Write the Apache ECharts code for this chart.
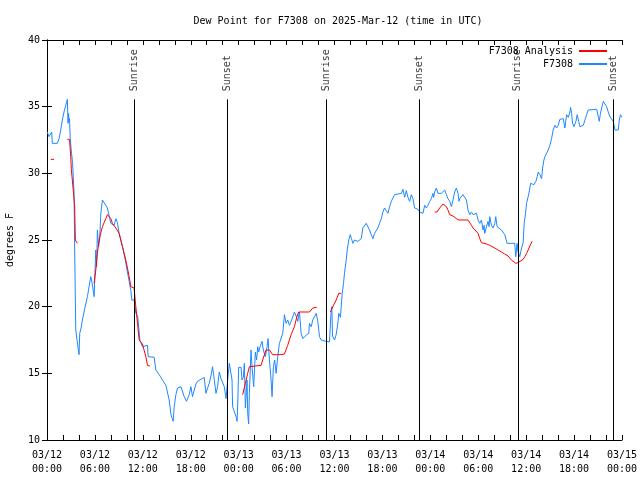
<!DOCTYPE html>
<html>
<head>
<meta charset="utf-8">
<script src="https://cdn.jsdelivr.net/npm/echarts@6/dist/echarts.min.js"></script>
<style>html,body{margin:0;padding:0;background:#fff}#c{width:640px;height:480px}</style>
</head>
<body>
<div id="c"></div>
<script>
// Hours since 2025-03-12 00:00 UTC
const obsHours = [0.04,0.25,0.38,0.59,0.66,1.29,1.51,1.72,1.92,2.13,2.35,2.55,2.63,2.70,2.76,2.82,2.91,3.07,3.20,3.39,3.45,3.55,3.60,3.76,4.01,4.10,4.27,4.43,4.64,4.85,5.06,5.27,5.48,5.64,5.90,6.11,6.21,6.31,6.46,6.59,6.74,6.94,7.15,7.36,7.56,7.78,7.99,8.19,8.40,8.62,8.82,9.03,9.24,9.45,9.66,9.87,10.07,10.29,10.50,10.62,10.79,10.91,11.13,11.35,11.54,11.63,11.95,12.16,12.58,12.67,13.42,13.63,13.80,14.05,14.46,14.89,15.09,15.30,15.52,15.68,15.80,15.93,16.14,16.34,16.56,16.77,16.97,17.18,17.47,17.81,18.02,18.22,18.44,18.65,18.85,19.28,19.69,19.90,20.11,20.32,20.53,20.73,20.95,21.16,21.36,21.57,21.79,21.99,22.20,22.42,22.62,22.83,23.04,23.17,23.24,23.46,23.67,23.80,23.90,24.00,24.30,24.42,24.59,24.71,24.84,25.05,25.13,25.25,25.34,25.55,25.67,25.88,26.09,26.25,26.38,26.51,26.68,26.93,27.09,27.34,27.56,27.68,27.85,28.06,28.18,28.35,28.51,28.69,28.89,29.10,29.31,29.52,29.73,29.94,30.14,30.36,30.57,30.77,30.98,31.20,31.40,31.61,31.82,32.03,32.24,32.52,32.78,32.86,33.08,33.28,33.50,33.71,33.91,34.12,34.33,34.96,35.37,35.58,35.66,35.75,36.00,36.21,36.42,36.54,36.63,36.75,36.84,36.97,37.13,37.25,37.47,37.59,37.79,37.97,38.13,38.30,38.51,38.72,38.92,39.13,39.35,39.55,39.76,39.97,40.18,40.39,40.60,40.81,41.02,41.23,41.43,41.64,41.86,42.06,42.27,42.48,42.69,42.90,43.11,43.31,43.53,43.94,44.37,44.57,44.78,44.99,45.20,45.41,45.62,45.82,46.03,46.45,46.66,46.88,47.08,47.29,47.50,47.70,47.92,48.13,48.33,48.42,48.54,48.75,48.96,49.17,49.38,49.59,49.80,50.01,50.21,50.43,50.64,50.84,51.05,51.26,51.47,51.59,51.68,51.89,52.09,52.30,52.52,52.72,52.93,53.15,53.35,53.56,53.77,53.98,54.19,54.40,54.60,54.73,54.81,55.03,55.23,55.35,55.44,55.65,55.85,56.07,56.19,56.36,56.61,56.91,57.11,57.32,57.53,57.61,58.57,58.70,58.86,58.99,59.20,59.42,59.62,59.75,59.92,60.05,60.25,60.38,60.55,60.75,60.97,61.22,61.38,61.51,61.72,61.93,62.06,62.22,62.35,62.56,62.76,62.97,63.18,63.38,63.60,63.81,64.01,64.22,64.64,64.85,65.06,65.27,65.48,65.56,65.69,65.81,65.98,66.23,66.39,66.57,66.73,66.94,67.15,67.36,67.57,67.77,68.83,69.03,69.15,69.28,69.45,69.66,69.87,70.08,70.28,70.49,70.71,70.91,71.12,71.53,71.66,71.81,72.0];
const obsValues = [33.1,32.75,32.6,33.1,32.25,32.25,32.6,33.25,34.0,34.6,35.1,35.55,33.75,34.5,33.9,34.1,32.6,31.5,30.8,28.5,25.0,20.5,18.25,17.5,16.4,18.0,18.4,19.0,19.6,20.2,20.75,21.5,22.25,21.8,20.75,24.25,23.0,25.75,24.5,25.0,27.0,28.0,28.1,27.6,27.4,27.25,26.25,26.3,26.1,26.6,26.3,25.5,25.0,24.5,23.9,23.25,22.6,21.9,21.2,20.5,20.6,20.5,19.5,19.3,19.25,17.5,17.0,17.0,17.1,16.25,16.2,15.25,15.1,14.9,14.5,14.1,14.0,13.0,11.9,11.6,11.4,12.5,13.4,13.9,13.8,14.0,13.9,13.25,12.9,13.4,14.0,13.25,13.75,14.2,14.4,14.55,14.7,13.5,13.9,14.25,14.8,15.5,14.5,13.5,14.0,15.1,14.6,14.6,14.0,13.1,14.5,15.75,15.8,14.5,12.5,12.4,11.75,11.4,13.0,15.45,15.45,14.5,14.7,15.75,12.4,14.5,12.0,11.2,13.5,16.75,15.5,14.0,16.6,16.0,17.0,16.6,17.0,17.4,16.75,16.25,17.0,17.6,16.0,14.5,13.25,15.5,16.0,15.0,16.25,17.25,17.4,18.0,19.4,18.75,19.0,18.6,18.9,19.0,19.6,19.3,18.9,19.6,18.0,17.6,17.75,17.9,18.0,18.75,18.5,19.0,19.25,19.5,18.9,17.75,17.5,17.4,17.35,19.75,20.0,17.8,17.5,17.9,18.75,19.5,19.5,19.2,20.0,21.0,21.75,22.5,23.5,24.25,25.0,25.4,25.1,24.75,25.0,25.1,24.9,24.75,25.1,25.9,25.9,26.25,26.1,25.75,25.4,25.1,25.5,25.6,25.9,26.25,26.6,27.1,27.4,27.2,27.0,27.5,27.9,27.75,28.4,28.45,28.5,28.8,28.2,28.7,28.2,27.9,28.4,28.1,27.4,27.3,27.1,27.0,27.0,27.6,27.4,27.6,27.9,28.1,28.5,28.2,28.6,28.9,28.5,28.6,28.5,28.6,28.75,28.4,28.1,27.9,27.5,28.0,28.6,28.9,28.5,27.9,28.1,28.0,28.4,28.5,28.0,27.25,26.9,27.1,26.9,27.0,27.0,26.5,26.25,26.5,25.75,26.1,25.5,26.0,26.4,26.0,26.75,26.1,25.9,26.25,26.75,26.0,25.9,25.75,25.6,25.4,25.25,24.75,24.75,23.75,24.75,24.1,23.75,24.4,24.75,26.25,27.0,27.75,28.25,28.6,29.25,29.1,29.15,29.4,29.75,30.1,29.9,29.6,30.4,31.0,31.25,31.1,31.75,32.1,32.6,33.25,33.6,33.4,33.6,34.05,34.1,33.4,34.4,34.2,34.6,34.95,34.5,33.75,33.5,33.9,34.4,33.9,33.5,33.4,33.6,34.0,34.4,34.75,34.8,34.25,33.9,34.4,34.9,35.4,35.25,35.0,34.6,34.25,34.1,33.9,33.25,33.25,34.0,34.4,34.2];
// Analysis: null value = gap in the line
const anaHours = [0.46,0.88,1.7,2.55,2.82,2.97,3.05,3.17,3.46,3.55,3.65,3.80,4.8,5.90,6.11,6.31,6.52,6.94,7.36,7.56,7.78,7.99,8.19,8.62,9.03,9.45,9.87,10.29,10.50,10.91,11.04,11.33,11.54,11.95,12.38,12.58,12.88,18.0,24.50,24.71,24.84,25.13,25.34,25.55,26.81,27.00,27.43,27.63,27.85,28.26,28.69,29.31,29.73,30.14,30.57,30.98,31.27,31.52,32.86,33.28,33.78,34.6,35.50,35.79,36.21,36.54,36.84,42.0,48.54,48.83,49.17,49.59,49.80,50.01,50.21,50.43,50.84,51.26,51.59,52.72,52.93,53.15,53.35,53.56,53.98,54.19,54.40,55.03,55.44,55.65,56.07,56.48,56.91,57.32,57.73,58.15,58.35,58.70,58.99,59.20,59.62,59.83,60.05,60.25,60.46,60.75];
const anaValues = [31.05,31.05,null,32.55,32.55,31.25,30.3,29.5,27.6,25.0,24.9,24.75,null,21.75,22.75,24.0,25.0,26.0,26.6,26.9,26.9,26.6,26.25,25.9,25.5,24.5,23.5,22.25,21.5,21.4,20.5,18.75,17.5,17.2,16.25,15.6,15.55,null,13.4,13.4,14.25,15.0,15.5,15.6,15.6,16.0,16.75,16.9,16.75,16.4,16.4,16.4,16.45,17.1,17.9,18.5,19.2,19.6,19.6,19.9,19.95,null,19.6,20.0,20.5,21.0,21.0,null,27.1,27.1,27.4,27.7,27.7,27.5,27.25,26.9,26.8,26.6,26.5,26.5,26.35,26.1,25.9,25.75,25.5,25.1,24.8,24.7,24.6,24.5,24.4,24.25,24.1,23.95,23.8,23.5,23.35,23.25,23.3,23.45,23.55,23.75,24.0,24.25,24.55,24.9];
const sunHours = [10.91, 22.58, 35.0, 46.66, 58.96, 70.87];
const sunLabels = ['Sunrise', 'Sunset', 'Sunrise', 'Sunset', 'Sunrise', 'Sunset'];
const yTicks = [10, 15, 20, 25, 30, 35, 40];

const FONT = 'DejaVu Sans Mono';
const obsData = obsHours.map((h, i) => [h, obsValues[i]]);
const anaData = anaHours.map((h, i) => [h, anaValues[i] === null ? '-' : anaValues[i]]);
const lineTop = 35.55, labelBase = 36.15;

function xLabel(h) {
  const d = 12 + Math.floor(h / 24);
  const hh = h % 24;
  return '03/' + d + '\n' + (hh < 10 ? '0' : '') + hh + ':00';
}

const chart = echarts.init(document.getElementById('c'), null, {renderer: 'canvas'});
const tickStyle = {color: '#000', width: 1};
chart.setOption({
  animation: false,
  backgroundColor: '#fff',
  title: {
    text: 'Dew Point for F7308 on 2025-Mar-12 (time in UTC)',
    left: 333, textAlign: 'center', top: 11,
    textStyle: {fontFamily: FONT, fontSize: 10, fontWeight: 'normal', color: '#000'}
  },
  legend: {
    orient: 'vertical', right: 28, top: 41, align: 'right',
    itemWidth: 28, itemHeight: 2, itemGap: 3, icon: 'rect',
    data: ['F7308 Analysis', 'F7308'],
    textStyle: {fontFamily: FONT, fontSize: 10, color: '#000', padding: [0, 1, 0, 0]}
  },
  grid: {left: 47, right: 18, top: 40, bottom: 40, containLabel: false, outerBoundsMode: 'none'},
  xAxis: [{
    type: 'value', min: 0, max: 72, interval: 6,
    axisLine: {show: true, lineStyle: tickStyle},
    axisTick: {inside: true, length: 5, lineStyle: tickStyle},
    minorTick: {show: true, splitNumber: 3, length: 5, lineStyle: tickStyle},
    splitLine: {show: false},
    axisLabel: {formatter: xLabel, fontFamily: FONT, fontSize: 10, color: '#000', lineHeight: 14, margin: 8}
  }, {
    type: 'value', min: 0, max: 72, interval: 6, position: 'top',
    axisLine: {show: true, lineStyle: tickStyle},
    axisTick: {inside: true, length: 5, lineStyle: tickStyle},
    minorTick: {show: true, splitNumber: 3, length: 5, lineStyle: tickStyle},
    splitLine: {show: false}, axisLabel: {show: false}
  }],
  yAxis: [{
    type: 'value', min: yTicks[0], max: yTicks[yTicks.length - 1], interval: 5,
    name: 'degrees F', nameLocation: 'middle', nameGap: 32, nameRotate: 90,
    nameTextStyle: {fontFamily: FONT, fontSize: 10, color: '#000'},
    axisLine: {show: true, lineStyle: tickStyle},
    axisTick: {inside: true, length: 5, lineStyle: tickStyle},
    splitLine: {show: false},
    axisLabel: {fontFamily: FONT, fontSize: 10, color: '#000', margin: 7}
  }, {
    type: 'value', min: yTicks[0], max: yTicks[yTicks.length - 1], interval: 5, position: 'right',
    axisLine: {show: true, lineStyle: tickStyle},
    axisTick: {inside: true, length: 5, lineStyle: tickStyle},
    splitLine: {show: false}, axisLabel: {show: false}
  }],
  series: [{
    name: 'F7308 Analysis', type: 'line', data: anaData, showSymbol: false, symbol: 'none',
    connectNulls: false, color: '#ff0000', lineStyle: {width: 1, color: '#ff0000'}, z: 3
  }, {
    name: 'F7308', type: 'line', data: obsData, showSymbol: false, symbol: 'none',
    color: '#1e88ff', lineStyle: {width: 1, color: '#1e88ff'}, z: 2,
    markLine: {
      silent: true, symbol: ['none', 'none'],
      lineStyle: {color: '#000', width: 1, type: 'solid'},
      label: {show: false},
      data: sunHours.map(h => [{coord: [h, yTicks[0]]}, {coord: [h, lineTop]}])
    }
  }, {
    name: 'sun', type: 'scatter', symbolSize: 0, silent: true,
    data: sunHours.map((h, i) => ({value: [h, labelBase], name: sunLabels[i]})),
    label: {
      show: true, position: 'inside', rotate: 90, align: 'left', verticalAlign: 'middle',
      formatter: p => p.name, fontFamily: FONT, fontSize: 10, color: '#000'
    }, z: 4
  }]
});
</script>
</body>
</html>
